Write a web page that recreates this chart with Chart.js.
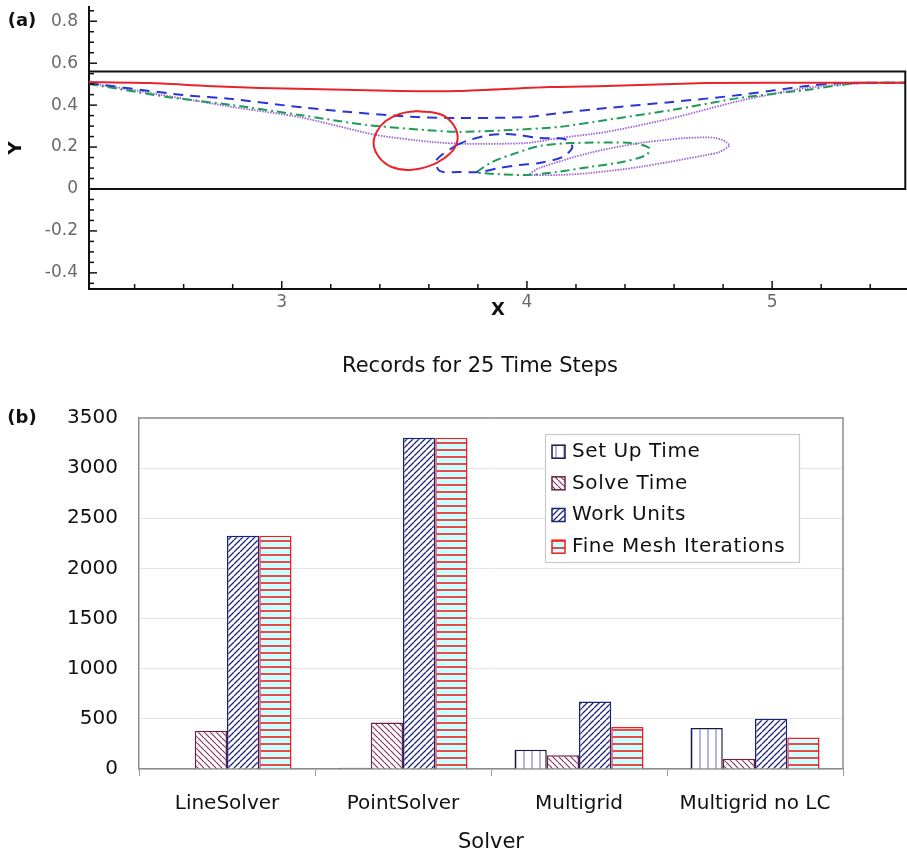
<!DOCTYPE html>
<html><head><meta charset="utf-8">
<script src="https://cdn.jsdelivr.net/npm/chart.js@4.4.1/dist/chart.umd.min.js"></script>
<style>
html,body{margin:0;padding:0;background:#fff;}
body{width:907px;height:851px;position:relative;overflow:hidden;}
#wrapA{position:absolute;left:0;top:0;width:907px;height:330px;}
#wrapB{position:absolute;left:0;top:330px;width:907px;height:521px;}
canvas{display:block;}
</style></head><body>
<div id="wrapA"><canvas id="chartA" width="907" height="330"></canvas></div>
<div id="wrapB"><canvas id="chartB" width="907" height="521"></canvas></div>
<script>
// ---------- Panel (a) data: particle paths (x, y) ----------
const aWall = [[2.214,0.56],[5.543,0.56],[5.543,0],[2.214,0]];
const aRedLine = [[2.214,0.510],[2.462,0.505],[2.695,0.491],[2.910,0.482],[3.114,0.477],[3.481,0.467],[3.725,0.467],[4.092,0.486],[4.324,0.491],[4.731,0.505],[5.273,0.507],[5.546,0.507]];
const aRedCircle = [[3.550,0.372],[3.644,0.358],[3.692,0.319],[3.717,0.257],[3.705,0.195],[3.664,0.148],[3.603,0.110],[3.521,0.091],[3.448,0.105],[3.399,0.148],[3.375,0.210],[3.387,0.272],[3.424,0.324],[3.481,0.358],[3.550,0.372]];
const aBlueUpper = [[2.214,0.505],[2.597,0.448],[2.800,0.429],[3.033,0.396],[3.277,0.367],[3.550,0.343],[3.725,0.338],[3.998,0.343],[4.132,0.362],[4.324,0.386],[4.593,0.415],[4.866,0.448],[5.138,0.491],[5.273,0.505],[5.546,0.507]];
const aBlueLoop = [[3.713,0.210],[3.766,0.234],[3.847,0.257],[3.900,0.262],[3.969,0.257],[4.051,0.243],[4.153,0.238],[4.185,0.200],[4.145,0.153],[4.051,0.124],[3.969,0.114],[3.888,0.100],[3.807,0.081],[3.725,0.081],[3.644,0.086],[3.631,0.138],[3.713,0.210]];
const aGreenUpper = [[2.214,0.501],[2.532,0.439],[2.800,0.400],[3.073,0.353],[3.346,0.305],[3.591,0.281],[3.725,0.272],[3.929,0.281],[4.132,0.296],[4.324,0.329],[4.593,0.377],[4.866,0.434],[5.138,0.472],[5.342,0.505],[5.546,0.507]];
const aGreenLoop = [[3.794,0.081],[3.859,0.129],[3.957,0.172],[4.051,0.205],[4.185,0.219],[4.430,0.219],[4.499,0.195],[4.487,0.162],[4.389,0.129],[4.255,0.105],[4.120,0.081],[3.998,0.067],[3.807,0.076],[3.794,0.081]];
const aPurpleUpper = [[2.214,0.505],[2.393,0.472],[2.800,0.391],[3.073,0.343],[3.387,0.257],[3.615,0.224],[3.754,0.215],[3.998,0.219],[4.132,0.243],[4.324,0.272],[4.593,0.338],[4.866,0.420],[5.138,0.482],[5.383,0.505],[5.546,0.507]];
const aPurpleLoop = [[4.010,0.072],[4.051,0.100],[4.255,0.172],[4.458,0.219],[4.568,0.234],[4.650,0.243],[4.772,0.243],[4.825,0.210],[4.784,0.176],[4.731,0.162],[4.458,0.105],[4.255,0.076],[4.132,0.067],[4.022,0.067],[4.010,0.072]];
const aXMajorValues = [3,4,5];
const aXMajorLabels = ['3','4','5'];
const aYMajorValues = [-0.4,-0.2,0,0.2,0.4,0.6,0.8];
const aYMajorLabels = ['-0.4','-0.2','0','0.2','0.4','0.6','0.8'];
const aXMinorStep = 0.2;
const aYMinorStep = 0.05;

// ---------- Panel (b) data ----------
const chartBTitle = 'Records for 25 Time Steps';
const categories = ['LineSolver','PointSolver','Multigrid','Multigrid no LC'];
const seriesNames = ['Set Up Time','Solve Time','Work Units','Fine Mesh Iterations'];
const setUpTime = [0, 12, 192, 408];
const solveTime = [381, 464, 136, 103];
const workUnits = [2327, 3303, 673, 501];
const fineMeshIterations = [2325, 3303, 418, 315];
const barYTicks = [0,500,1000,1500,2000,2500,3000,3500];
const barYTickLabels = ['0','500','1000','1500','2000','2500','3000','3500'];

const FONT = "'DejaVu Sans', 'Liberation Sans', sans-serif";

function pts(a){ return a.map(p => ({x:p[0], y:p[1]})); }
function majorIndex(list, v){ return list.findIndex(m => Math.abs(m - v) < 1e-6); }
function minorTicks(scale, step){
  const out = [];
  for (let k = Math.ceil(scale.min/step - 1e-9); k*step <= scale.max + 1e-9; k++) out.push({value: +(k*step).toFixed(4)});
  scale.ticks = out;
}
function lineDs(label, arr, color, dash, width, tension){
  return {label, data: pts(arr), showLine: true, borderColor: color, backgroundColor: color,
    borderWidth: width, borderDash: dash, pointRadius: 0, pointHoverRadius: 0,
    tension: tension, fill: false, clip: 6, borderCapStyle: 'butt'};
}

const innerTicks = {
  id: 'innerTicks',
  afterDraw(chart){
    const {ctx, chartArea, scales:{x, y}} = chart;
    ctx.save();
    ctx.strokeStyle = '#111'; ctx.lineWidth = 1.5;
    x.ticks.forEach(t => {
      const px = x.getPixelForValue(t.value);
      const len = majorIndex(aXMajorValues, t.value) >= 0 ? 8 : 5;
      ctx.beginPath(); ctx.moveTo(px, chartArea.bottom); ctx.lineTo(px, chartArea.bottom - len); ctx.stroke();
    });
    y.ticks.forEach(t => {
      const py = y.getPixelForValue(t.value);
      const len = majorIndex(aYMajorValues, t.value) >= 0 ? 8 : 5;
      ctx.beginPath(); ctx.moveTo(chartArea.left, py); ctx.lineTo(chartArea.left + len, py); ctx.stroke();
    });
    ctx.font = "bold 18px " + FONT; ctx.fillStyle = '#111';
    ctx.textAlign = 'center'; ctx.textBaseline = 'middle';
    ctx.fillText('(a)', 22, 21);
    ctx.restore();
  }
};

new Chart(document.getElementById('chartA'), {
  type: 'scatter',
  data: { datasets: [
    lineDs('wall', aWall, '#111111', [], 2, 0),
    lineDs('red line', aRedLine, '#e5242b', [], 2, 0.2),
    lineDs('red circle', aRedCircle, '#e5242b', [], 2, 0.4),
    lineDs('blue upper', aBlueUpper, '#2b34d8', [10,7], 2, 0.2),
    lineDs('blue loop', aBlueLoop, '#2b34d8', [10,7], 2, 0.3),
    lineDs('green upper', aGreenUpper, '#1f9a57', [9,4,2,4], 2, 0.2),
    lineDs('green loop', aGreenLoop, '#1f9a57', [9,4,2,4], 2, 0.3),
    lineDs('purple upper', aPurpleUpper, '#9b62d6', [1.5,1.2], 1.8, 0.2),
    lineDs('purple loop', aPurpleLoop, '#9b62d6', [1.5,1.2], 1.8, 0.3)
  ]},
  options: {
    responsive: false, animation: false, events: [],
    layout: { padding: {top: 7, right: 0, left: 0, bottom: 0} },
    plugins: { legend: {display: false}, tooltip: {enabled: false} },
    scales: {
      x: {
        type: 'linear', position: 'bottom', min: 2.214, max: 5.55,
        afterBuildTicks: s => minorTicks(s, aXMinorStep),
        afterFit: s => { s.height = 41; s.paddingLeft = 0; s.paddingRight = 0; },
        grid: { display: false, drawTicks: false },
        border: { display: true, color: '#111', width: 2 },
        ticks: { autoSkip: false, maxRotation: 0, padding: 3, color: '#6a6a6a', font: {family: FONT, size: 17},
          callback: v => { const i = majorIndex(aXMajorValues, v); return i >= 0 ? aXMajorLabels[i] : ''; } },
        title: { display: true, text: 'X', color: '#111', font: {family: FONT, size: 18, weight: 'bold'}, padding: {top: 0, bottom: 9} }
      },
      y: {
        type: 'linear', min: -0.477, max: 0.868,
        afterBuildTicks: s => minorTicks(s, aYMinorStep),
        afterFit: s => { s.width = 89; s.paddingTop = 0; s.paddingBottom = 0; },
        grid: { display: false, drawTicks: false },
        border: { display: true, color: '#111', width: 2 },
        ticks: { autoSkip: false, padding: 11, color: '#6a6a6a', font: {family: FONT, size: 17},
          callback: v => { const i = majorIndex(aYMajorValues, v); return i >= 0 ? aYMajorLabels[i] : ''; } },
        title: { display: true, text: 'Y', color: '#111', font: {family: FONT, size: 18, weight: 'bold'}, padding: {top: 6, bottom: 0} }
      }
    }
  },
  plugins: [innerTicks]
});

// ---------- Panel (b) ----------
function makePattern(kind){
  const c = document.createElement('canvas');
  const g = c.getContext('2d');
  let s;
  if (kind === 'vert') {
    s = 8; c.width = s; c.height = s;
    g.fillStyle = '#ffffff'; g.fillRect(0,0,s,s);
    g.strokeStyle = '#9494ee'; g.lineWidth = 1.4;
    g.beginPath(); g.moveTo(4,0); g.lineTo(4,s); g.stroke();
  } else if (kind === 'back') {
    s = 6; c.width = s; c.height = s;
    g.fillStyle = '#ffffff'; g.fillRect(0,0,s,s);
    g.strokeStyle = '#8a3560'; g.lineWidth = 1.2;
    g.beginPath();
    for (const k of [-s,0,s]) { g.moveTo(k,0); g.lineTo(k+s,s); }
    g.stroke();
  } else if (kind === 'fwd') {
    s = 6; c.width = s; c.height = s;
    g.fillStyle = '#ffffff'; g.fillRect(0,0,s,s);
    g.strokeStyle = '#1d2680'; g.lineWidth = 1.3;
    g.beginPath();
    for (const k of [-s,0,s]) { g.moveTo(k,s); g.lineTo(k+s,0); }
    g.stroke();
  } else {
    s = 7; c.width = 8; c.height = s;
    g.fillStyle = '#ccffff'; g.fillRect(0,0,8,s);
    g.strokeStyle = '#f01e1e'; g.lineWidth = 1.6;
    g.beginPath(); g.moveTo(0,1); g.lineTo(8,1); g.stroke();
  }
  return g.createPattern(c, 'repeat');
}
const bctx = document.getElementById('chartB').getContext('2d');
const patterns = [makePattern('vert'), makePattern('back'), makePattern('fwd'), makePattern('horiz')];
const borders = ['#1a1a3c', '#6e2043', '#1a237a', '#f01e1e'];
const seriesValues = [setUpTime, solveTime, workUnits, fineMeshIterations];

const barDecor = {
  id: 'barDecor',
  beforeDatasetsDraw(chart){
    const {ctx, chartArea: a} = chart;
    ctx.save();
    ctx.strokeStyle = '#8c8c8c'; ctx.lineWidth = 1.5;
    ctx.beginPath(); ctx.moveTo(a.left, a.top); ctx.lineTo(a.right, a.top); ctx.lineTo(a.right, a.bottom); ctx.stroke();
    ctx.restore();
  },
  afterDatasetsDraw(chart){
    const ctx = chart.ctx;
    const L = 545, T = 104, W = 254, H = 128;
    ctx.save();
    ctx.fillStyle = '#ffffff'; ctx.fillRect(L, T, W, H);
    ctx.strokeStyle = '#c8c8c8'; ctx.lineWidth = 1.2; ctx.strokeRect(L + 0.5, T + 0.5, W, H);
    const rows = [121.7, 153.3, 185, 216.7];
    ctx.font = "20px " + FONT; ctx.textBaseline = 'middle'; ctx.textAlign = 'left';
    try { ctx.letterSpacing = '0.6px'; } catch (e) {}
    chart.data.datasets.forEach((ds, i) => {
      const y = rows[i];
      ctx.fillStyle = ds.backgroundColor; ctx.fillRect(552, y - 6.5, 13, 13);
      ctx.strokeStyle = ds.borderColor; ctx.lineWidth = 1.5; ctx.strokeRect(552, y - 6.5, 13, 13);
      ctx.fillStyle = '#111'; ctx.fillText(ds.label, 572, y);
    });
    ctx.restore();
  },
  afterDraw(chart){
    const ctx = chart.ctx;
    ctx.save();
    ctx.fillStyle = '#111'; ctx.textBaseline = 'middle'; ctx.textAlign = 'center';
    ctx.font = "21px " + FONT;
    ctx.fillText(chartBTitle, 480, 37);
    ctx.font = "bold 18px " + FONT;
    ctx.fillText('(b)', 22, chart.chartArea.top);
    ctx.restore();
  }
};

new Chart(bctx, {
  type: 'bar',
  data: {
    labels: categories,
    datasets: seriesNames.map((n, i) => ({
      label: n, data: seriesValues[i], backgroundColor: patterns[i], borderColor: borders[i],
      borderWidth: 1.5, categoryPercentage: 0.733, barPercentage: 1.0
    }))
  },
  options: {
    responsive: false, animation: false, events: [],
    layout: { padding: {top: 88, right: 64, left: 0, bottom: 0} },
    plugins: { legend: {display: false}, tooltip: {enabled: false}, title: {display: false} },
    scales: {
      x: {
        afterFit: s => { s.height = 82; s.paddingLeft = 0; s.paddingRight = 0; },
        grid: { drawOnChartArea: false, drawTicks: true, tickLength: 7, color: '#9a9a9a', offset: true },
        border: { display: true, color: '#8c8c8c', width: 1.5 },
        ticks: { autoSkip: false, maxRotation: 0, padding: 16, color: '#111', font: {family: FONT, size: 20} },
        title: { display: true, text: 'Solver', color: '#111', font: {family: FONT, size: 21, lineHeight: 1}, padding: {top: 0, bottom: -2} }
      },
      y: {
        min: 0, max: 3500,
        afterBuildTicks: s => { s.ticks = barYTicks.map(v => ({value: v})); },
        afterFit: s => { s.width = 139; s.paddingTop = 0; s.paddingBottom = 0; },
        grid: { drawTicks: false, color: '#e4e4e4', lineWidth: 1 },
        border: { display: true, color: '#8c8c8c', width: 1.5 },
        ticks: { autoSkip: false, padding: 21, color: '#111', font: {family: FONT, size: 20},
          callback: (v, i) => barYTickLabels[i] }
      }
    }
  },
  plugins: [barDecor]
});
</script>
</body></html>
